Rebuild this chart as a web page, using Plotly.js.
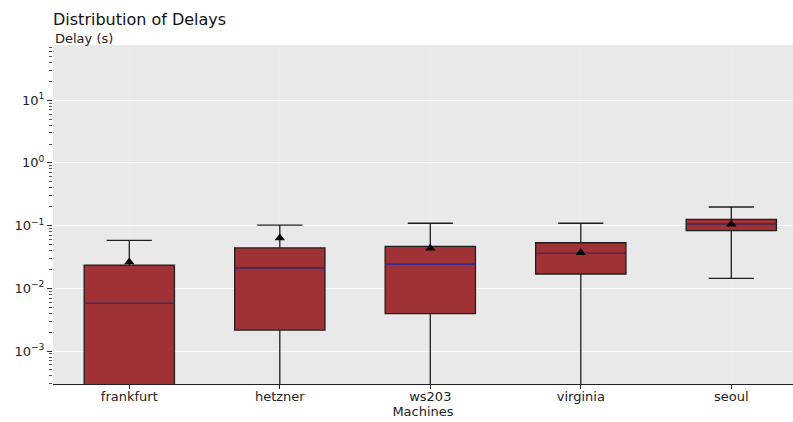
<!DOCTYPE html>
<html><head><meta charset="utf-8">
<script src="https://cdn.plot.ly/plotly-3.0.1.min.js"></script>
<style>html,body{margin:0;padding:0;overflow:hidden;background:#fff}#chart{width:793px;height:422px}</style>
</head><body><div id="chart"></div>
<script>
const machines = ["frankfurt", "hetzner", "ws203", "virginia", "seoul"];
const lowerWhisker = [0.00001, 0.00001, 0.00001, 0.00001, 0.0144];
const q1 = [0.0001, 0.00216, 0.00394, 0.0169, 0.083];
const medians = [0.00577, 0.0211, 0.0241, 0.0361, 0.107];
const q3 = [0.0235, 0.0440, 0.0468, 0.0533, 0.126];
const upperWhisker = [0.0583, 0.102, 0.109, 0.109, 0.198];
const means = [0.0263, 0.0634, 0.0434, 0.0368, 0.105];
const yTickExps = [-3, -2, -1, 0, 1];

const pos = machines.map((_, i) => i);
const boxW = 0.6;
const font = "DejaVu Sans";

const traces = [{
  type: "box",
  x: pos,
  q1: q1, median: medians, q3: q3,
  lowerfence: lowerWhisker, upperfence: upperWhisker,
  width: boxW,
  whiskerwidth: 0.5,
  fillcolor: "#a03134",
  line: {color: "#1e1e1e", width: 1.3},
  boxpoints: false,
  hoverinfo: "skip",
  showlegend: false
}];
const mx = [], my = [];
pos.forEach((p, i) => { mx.push(p - boxW/2, p + boxW/2, null); my.push(medians[i], medians[i], null); });
traces.push({type: "scatter", mode: "lines", x: mx, y: my, line: {color: "#3b30a8", width: 1}, showlegend: false, hoverinfo: "skip"});
traces.push({type: "scatter", mode: "markers", x: pos, y: means,
  marker: {symbol: "triangle-up", size: 9, color: "#000"}, showlegend: false, hoverinfo: "skip"});

const layout = {
  width: 793, height: 422,
  margin: {l: 53, r: 0, t: 45, b: 38},
  paper_bgcolor: "#ffffff",
  plot_bgcolor: "#e9e9e9",
  font: {family: font, size: 13, color: "#222"},
  title: {text: "Distribution of Delays", x: 53/793, xanchor: "left", y: 1 - 19/422, yanchor: "middle",
          font: {family: font, size: 16, color: "#111"}},
  xaxis: {
    range: [-0.507, 4.41],
    tickvals: pos, ticktext: machines,
    showgrid: true, gridcolor: "#efefef", gridwidth: 0.6,
    zeroline: false,
    showline: true, linecolor: "#222", linewidth: 1,
    ticks: "outside", ticklen: 4, tickcolor: "#222",
    ticklabelstandoff: -4,
    tickfont: {family: font, size: 13, color: "#222"},
    title: {text: "Machines", standoff: 0, font: {family: font, size: 13, color: "#222"}}
  },
  yaxis: {
    type: "log",
    range: [-3.526, 1.880],
    tickvals: yTickExps.map(e => Math.pow(10, e)),
    ticktext: yTickExps.map(e => "10<sup>" + (e < 0 ? "\u2212" + (-e) : e) + "</sup>"),
    showgrid: true, gridcolor: "#ffffff", gridwidth: 1,
    zeroline: false, showline: false,
    ticks: "outside", ticklen: 5, tickcolor: "#333",
    minor: {ticks: "outside", ticklen: 3, tickcolor: "#555", showgrid: false, dtick: "D1"},
    tickfont: {family: font, size: 13, color: "#222"}
  },
  annotations: [{
    text: "Delay (s)", xref: "paper", yref: "paper", x: 0, y: 1, xanchor: "left", yanchor: "bottom",
    yshift: -3, showarrow: false, font: {family: font, size: 13, color: "#222"}
  }]
};

Plotly.newPlot("chart", traces, layout, {staticPlot: true, displayModeBar: false});
</script>
</body></html>
